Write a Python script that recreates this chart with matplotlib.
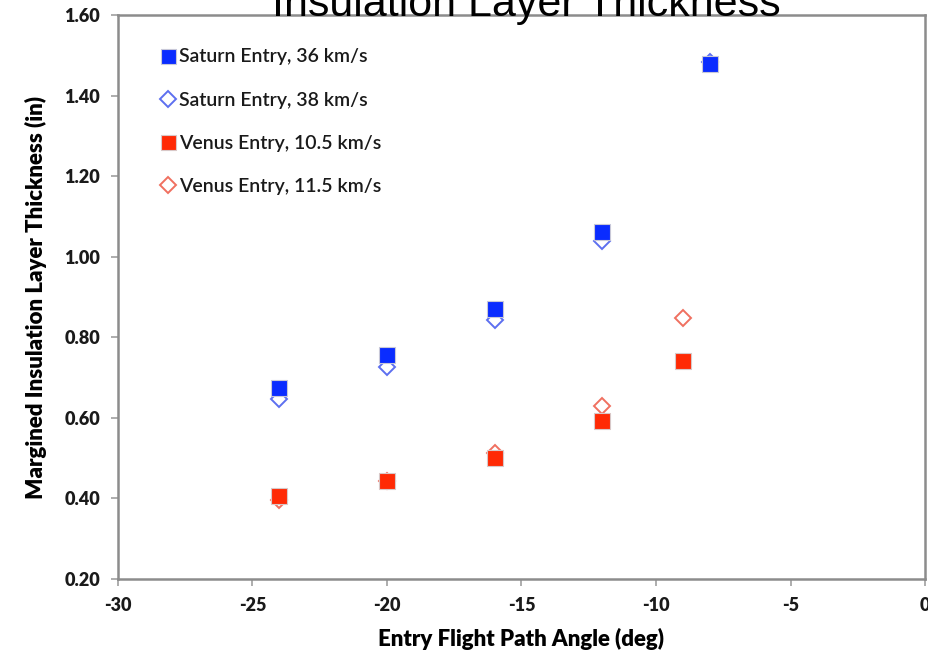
import numpy as np
import matplotlib.pyplot as plt

# data
sat36_x = [-24, -20, -16, -12, -8]
sat36_y = [0.674, 0.756, 0.870, 1.061, 1.478]
sat38_x = [-24, -20, -16, -12, -8]
sat38_y = [0.647, 0.726, 0.843, 1.039, 1.484]
ven105_x = [-24, -20, -16, -12, -9]
ven105_y = [0.406, 0.443, 0.500, 0.592, 0.741]
ven115_x = [-24, -20, -16, -12, -9]
ven115_y = [0.395, 0.443, 0.513, 0.630, 0.848]

xticks = [-30, -25, -20, -15, -10, -5, 0]
yticks = [0.20, 0.40, 0.60, 0.80, 1.00, 1.20, 1.40, 1.60]

plt.rcParams['font.family'] = ['Lato', 'DejaVu Sans']

fig = plt.figure(figsize=(9.29, 6.53), dpi=100)
ax = fig.add_axes([0.127, 0.1133, 0.8687, 0.8637])

blue = '#0a2cff'
red = '#ff2a05'
ax.plot(sat36_x, sat36_y, 's', ms=12, color=blue, mec='#c8c8d8', mew=0.8,
        label='Saturn Entry, 36 km/s', zorder=5)
ax.plot(sat38_x, sat38_y, 'D', ms=8.5, mfc='white', mec='#5d6ff0', mew=1.4,
        label='Saturn Entry, 38 km/s', zorder=4)
ax.plot(ven105_x, ven105_y, 's', ms=12, color=red, mec='#d8c8c8', mew=0.8,
        label='Venus Entry, 10.5 km/s', zorder=5)
ax.plot(ven115_x, ven115_y, 'D', ms=8.5, mfc='white', mec='#f07060', mew=1.4,
        label='Venus Entry, 11.5 km/s', zorder=4)

ax.set_xlim(-30, 0)
ax.set_ylim(0.2, 1.6)
ax.set_xticks(xticks)
ax.set_yticks(yticks)
ax.set_xticklabels([str(t) for t in xticks])
ax.set_yticklabels(['%.2f' % t for t in yticks])

for s in ax.spines.values():
    s.set_color('#8c8c8c')
    s.set_linewidth(1.8)
ax.tick_params(direction='out', length=5, width=1.2, color='#a0a0a0',
               labelsize=13, pad=8)
for lab in ax.get_xticklabels() + ax.get_yticklabels():
    lab.set_fontweight('heavy')
    lab.set_color('#1a1a1a')

ax.set_xlabel('Entry Flight Path Angle (deg)', fontsize=16, fontweight='heavy',
              labelpad=10)
ax.set_ylabel('Margined Insulation Layer Thickness (in)', fontsize=16,
              fontweight='heavy', labelpad=12)

fig.text(0.566, 0.993, 'Insulation Layer Thickness', fontsize=31,
         family='Liberation Sans', ha='center', va='center')

leg = ax.legend(loc='upper left', frameon=False,
                prop={'size': 14, 'weight': 'semibold'},
                labelspacing=1.35, handletextpad=0.0, handlelength=1.1,
                borderaxespad=0.3, bbox_to_anchor=(0.032, 0.965),
                markerscale=0.9)
for t in leg.get_texts():
    t.set_color('#1a1a1a')

fig.savefig('out.png', dpi=100)
